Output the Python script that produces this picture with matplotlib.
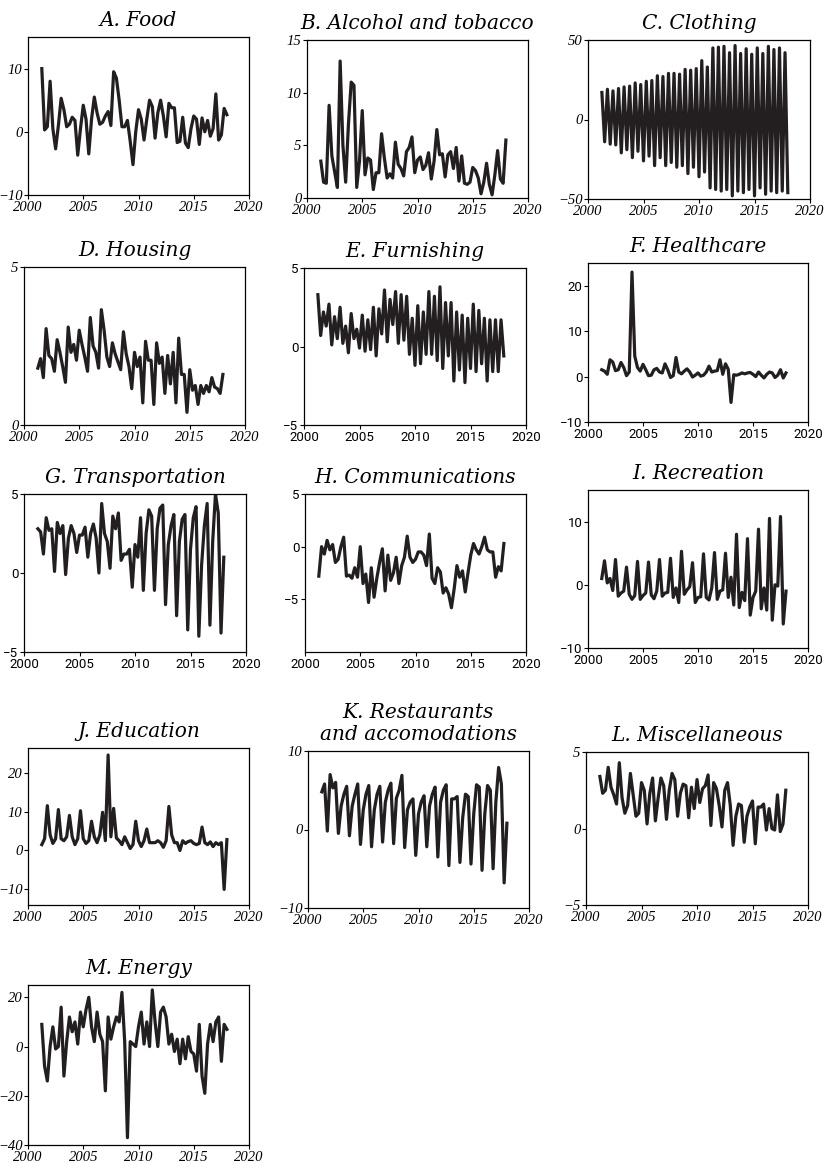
import matplotlib
matplotlib.use("Agg")
import matplotlib.pyplot as plt
import numpy as np

# quarterly observations, 2001Q2 .. 2018Q1
years = 2001.25 + 0.25 * np.arange(68)

food = [10, 0.3, 0.8, 8, 0.5, -2.7, 1, 5.3, 3.5, 0.8, 1.2, 2.3, 1.8, -3.7, 0.5, 4.2,
        2, -3.5, 2, 5.5, 3, 1.2, 1.5, 2.5, 3.2, 1, 9.5, 8.5, 5, 0.8, 0.8, 1.8,
        -1.5, -5.2, 0, 3.5, 2, -1.3, 2, 5, 4, -1, 3, 5, 2.5, -0.8, 4.5, 3.8,
        3.8, -1.7, -1.5, 2.3, -1.8, -2.5, 0.5, 2.5, 2, -2, 2.2, 0, 1.8, -0.7,
        0.5, 6, -1.3, -0.5, 3.7, 2.7]
alcohol = [3.5, 1.5, 1.4, 8.8, 4, 2.5, 1, 13, 5, 1.5, 7, 11, 10.7, 1, 3.5, 8.3,
           2.2, 3.8, 3.6, 0.8, 2.4, 2.4, 6.1, 3.8, 1.9, 2.3, 1.9, 5.3, 3.2, 2.8, 2.1, 4.4,
           4.8, 5.8, 2.4, 3.6, 3.9, 2.7, 3.1, 4.3, 1.8, 3.5, 6.5, 4.1, 4.2, 2, 4.1, 4.4,
           2.8, 4.8, 1.6, 4, 1.4, 1.3, 1.5, 2.9, 2.6, 1.9, 0.4, 1.5, 3.3, 1.3,
           0.3, 2.2, 4.5, 1.8, 1.4, 5.5]
clothing = [17, -14, 19, -15.5, 18, -16, 19.5, -21, 20.5, -19, 21, -24, 23, -20, 22, -26,
            24, -23, 24.5, -29, 27.5, -24, 27, -29, 29, -27, 29, -30, 28.5, -29, 31.5, -34,
            31, -30, 32, -36, 37, -33, 33, -43, 45, -44, 45.5, -45, 46, -44, 42, -48,
            46.5, -45, 41.5, -46, 44.5, -44, 41, -48, 45, -43, 41.5, -47, 46, -45,
            44, -46, 45, -45, 42, -46]
housing = [1.8, 2.1, 1.5, 3.05, 2.2, 2.1, 1.7, 2.7, 2.3, 1.85, 1.35, 3.1, 2.3, 2.55, 2.05, 3.0,
           2.55, 2.15, 1.7, 3.4, 2.5, 2.3, 1.8, 3.65, 3.0, 2.15, 1.85, 2.6, 2.25, 2.0, 1.75, 2.95,
           2.25, 1.85, 1.15, 2.3, 1.85, 2.15, 0.7, 2.65, 2.05, 2.05, 0.65, 2.6, 1.95, 2.15, 1.0, 2.2,
           1.3, 2.3, 0.7, 2.75, 1.6, 1.6, 0.4, 1.75, 1.1, 1.25, 0.65, 1.25, 1.0, 1.25,
           1.05, 1.5, 1.2, 1.15, 1.0, 1.6]
furnishing = [3.3, 0.7, 2.2, 1.3, 2.7, 0.1, 1.9, 0.5, 2.5, 0.2, 1.3, -0.4, 2.1, 0.5, 1.1, -0.1,
              2.0, -0.3, 1.7, -0.2, 2.5, -0.6, 2.4, 0.8, 3.6, 0.3, 3.0, 1.4, 3.5, 0.2, 3.3, 0.4,
              3.2, -0.5, 1.8, -1.2, 2.6, -1.1, 2.2, -0.5, 3.5, -0.5, 3.2, -0.9, 3.8, -1.4, 2.8, -0.6,
              2.8, -2.2, 2.2, -1.5, 2.0, -2.3, 1.8, -1.4, 2.7, -1.6, 2.3, -1.1, 1.8, -2.2,
              1.7, -1.6, 1.7, -1.6, 1.7, -0.6]
healthcare = [1.5, 1.2, 0.5, 3.7, 3.2, 1.3, 1.5, 3.1, 2.0, 0.2, 1.0, 23, 4.5, 2.0, 1.2, 2.7,
              1.5, 0.2, 0.3, 1.5, 1.8, 1.0, 0.8, 2.8, 1.5, -0.2, 0.2, 4.2, 1.0, 0.6, 1.2, 1.7,
              1.0, -0.1, 0.3, 0.8, 0.1, 0.3, 1.0, 2.3, 1.0, 1.2, 1.3, 3.7, 0.5, 2.8, 1.6, -5.7,
              0.4, 0.3, 0.5, 0.8, 0.6, 0.8, 0.9, 0.5, 0.0, 1.0, 0.3, -0.3, 0.5, 1.0,
              0.8, -0.2, 0.3, 1.5, -0.3, 0.8]
transport = [2.8, 2.6, 1.2, 3.5, 2.7, 2.8, 0.1, 3.2, 2.5, 3.0, -0.1, 2.2, 3.0, 2.5, 1.3, 2.4,
             2.4, 2.9, 1.0, 2.5, 3.1, 2.2, 0.0, 4.4, 2.5, 2.0, 0.3, 3.6, 2.8, 3.8, 0.8, 1.2,
             1.2, 1.5, -0.9, 1.8, 1.0, 3.5, -1.1, 2.5, 4.0, 3.6, -1.1, 2.8, 4.1, 4.3, -2.0, 1.8,
             3.0, 3.7, -2.7, 2.0, 3.4, 3.7, -3.6, 1.5, 3.5, 4.2, -4.0, 0.5, 3.0, 4.4,
             -3.3, 2.0, 5.0, 3.8, -3.8, 1.0]
communic = [-2.8, 0.0, -0.7, 0.6, -0.3, 0.2, -1.5, -1.2, 0.0, 0.9, -2.8, -2.7, -3.0, -2.0, -2.9, 0.0,
            -3.5, -2.6, -5.3, -2.0, -4.8, -3.0, -1.5, -0.2, -4.2, -0.8, -3.2, -2.5, -1.0, -3.5, -1.8, -1.0,
            1.0, -1.0, -1.5, -1.2, -0.5, -0.5, -0.8, -1.8, 1.2, -3.0, -3.5, -2.0, -2.4, -4.4, -3.9, -4.5,
            -5.8, -4.0, -1.8, -2.9, -2.3, -4.3, -2.5, -0.8, 0.3, -0.3, -0.7, 0.0, 0.9, -0.3,
            -0.5, -0.5, -2.9, -1.9, -2.3, 0.3]
recreation = [1.0, 3.8, 0.3, 1.0, -0.9, 4.0, -1.8, -1.3, -1.0, 2.8, -1.5, -2.3, -1.7, 3.7, -2.3, -1.7,
              -1.3, 3.6, -1.6, -2.2, -1.0, 4.0, -1.8, -1.3, -1.2, 4.2, -2.0, -0.5, -2.8, 5.3, -1.5, -0.8,
              -0.3, 3.5, -2.8, -2.0, -1.9, 4.9, -2.0, -2.4, -0.5, 5.1, -2.3, -1.0, -0.8, 5.0, -2.0, 1.2,
              -3.2, 8.0, -3.6, -1.2, -2.5, 7.3, -4.8, -2.0, -1.0, 8.8, -3.8, -0.5, -4.0, 10.5,
              -5.6, 0.0, -0.2, 10.8, -6.2, -1.0]
education = [1.5, 3.0, 11.5, 4.0, 1.8, 3.0, 10.5, 3.0, 2.5, 3.5, 9.0, 3.5, 1.5, 3.0, 10.2, 3.0,
             1.8, 2.5, 7.5, 3.5, 2.0, 4.0, 9.8, 2.5, 24.5, 3.5, 10.8, 3.2, 2.5, 1.5, 3.5, 2.0,
             0.5, 1.5, 7.5, 2.5, 1.0, 2.5, 5.5, 2.0, 2.0, 2.0, 2.5, 2.0, 0.8, 2.5, 11.3, 4.0,
             2.0, 2.0, 0.0, 2.5, 1.8, 2.3, 2.5, 1.8, 1.5, 1.8, 6.0, 2.0, 1.5, 2.2,
             1.0, 2.0, 1.5, 2.0, -10.0, 2.8]
restaurants = [4.8, 5.8, -0.2, 7.0, 5.3, 6.0, -0.5, 3.0, 4.5, 5.5, -0.8, 3.0, 4.5, 5.8, -1.9, 2.5,
               4.5, 5.6, -2.2, 2.5, 4.5, 5.5, -1.6, 3.5, 5.0, 5.9, -1.8, 4.0, 5.0, 6.9, -2.3, 2.5,
               3.5, 3.9, -3.3, 2.0, 3.5, 4.3, -2.2, 3.0, 4.5, 5.4, -3.5, 3.5, 5.0, 5.7, -4.6, 3.9,
               3.9, 4.2, -4.2, 1.5, 4.5, 4.2, -4.4, 2.0, 5.7, 5.4, -5.2, 2.0, 5.6, 5.0,
               -5.0, 3.5, 7.9, 5.8, -6.8, 0.8]
misc = [3.4, 2.3, 2.5, 4.0, 2.7, 2.2, 1.6, 4.3, 2.0, 1.0, 1.5, 3.6, 2.2, 0.8, 1.0, 3.0,
        2.5, 0.3, 2.3, 3.3, 0.5, 2.0, 3.3, 2.8, 0.6, 2.5, 3.6, 3.2, 0.8, 2.3, 2.9, 2.8,
        0.7, 2.7, 1.3, 3.2, 1.7, 2.6, 2.8, 3.5, 0.2, 3.0, 2.6, 1.5, 0.1, 2.5, 3.0, 1.5,
        -1.1, 0.8, 1.6, 1.5, -0.9, 0.8, 1.4, 1.8, -1.0, 1.4, 1.4, 1.6, -0.1, 1.3,
        0.0, -0.1, 2.2, -0.2, 0.3, 2.5]
energy = [9, -8, -14, 0, 8, -1, 0, 16, -12, 2, 12, 6, 10, 1, 14, 8,
          15, 20, 8, 2, 14, 5, 2, -18, 12, 3, 8, 12, 10, 22, 2, -37,
          2, 1, 0, 8, 14, 1, 10, 0, 23, 10, 0, 14, 16, 12, 1, 5,
          -2, 3, -7, 3, -5, 4, -2, -3, -10, 9, -12, -19, 1, 9,
          2, 10, 12, -6, 9, 7]

titles = ["A. Food", "B. Alcohol and tobacco", "C. Clothing", "D. Housing",
          "E. Furnishing", "F. Healthcare", "G. Transportation", "H. Communications",
          "I. Recreation", "J. Education", "K. Restaurants\nand accomodations",
          "L. Miscellaneous", "M. Energy"]
series = [food, alcohol, clothing, housing, furnishing, healthcare, transport,
          communic, recreation, education, restaurants, misc, energy]
ylims = [(-10, 15), (0, 15), (-50, 50), (0, 5), (-5, 5), (-10, 25), (-5, 5),
         (-10, 5), (-10, 15), (-14, 26.3), (-10, 10), (-5, 5), (-40, 25)]
yticks = [[-10, 0, 10], [0, 5, 10, 15], [-50, 0, 50], [0, 5], [-5, 0, 5],
          [-10, 0, 10, 20], [-5, 0, 5], [-5, 0, 5], [-10, 0, 10], [-10, 0, 10, 20],
          [-10, 0, 10], [-5, 0, 5], [-40, -20, 0, 20]]
# tick label style of each panel: serif italic or plain sans
serif_ticks = [True, True, True, True, False, False, False, False, False,
               True, True, True, True]

# axes boxes in pixels: left, top, right, bottom
boxes = [(28, 37, 249, 195), (307, 40, 528, 198), (588, 40, 810, 199),
         (24, 267, 245, 425), (304, 268, 526, 425), (588, 263, 808, 422),
         (24, 494, 246, 652), (305, 494, 526, 652), (588, 490, 808, 648),
         (28, 748, 249, 905), (308, 751, 529, 908), (586, 752, 808, 905),
         (28, 985, 249, 1145)]

W, H = 825, 1163
fig = plt.figure(figsize=(W / 100, H / 100), dpi=100)

for k in range(13):
    l, t, r, b = boxes[k]
    ax = fig.add_axes([l / W, 1 - b / H, (r - l) / W, (b - t) / H])
    ax.plot(years, series[k], color="#231f20", lw=2.3)
    ax.set_xlim(2000, 2020)
    ax.set_ylim(*ylims[k])
    ax.set_xticks([2000, 2005, 2010, 2015, 2020])
    ax.set_yticks(yticks[k])
    ax.tick_params(length=3, width=0.8, pad=1)
    for s in ax.spines.values():
        s.set_linewidth(0.9)
    for lab in ax.get_xticklabels() + ax.get_yticklabels():
        if serif_ticks[k]:
            lab.set_fontfamily("Liberation Serif")
            lab.set_fontstyle("italic")
            lab.set_fontsize(10.5)
        else:
            lab.set_fontfamily("Roboto")
            lab.set_fontsize(9.5)
    ax.set_title(titles[k], family="DejaVu Serif", style="italic", fontsize=14.5, pad=8)

fig.savefig("out.png", dpi=100)
